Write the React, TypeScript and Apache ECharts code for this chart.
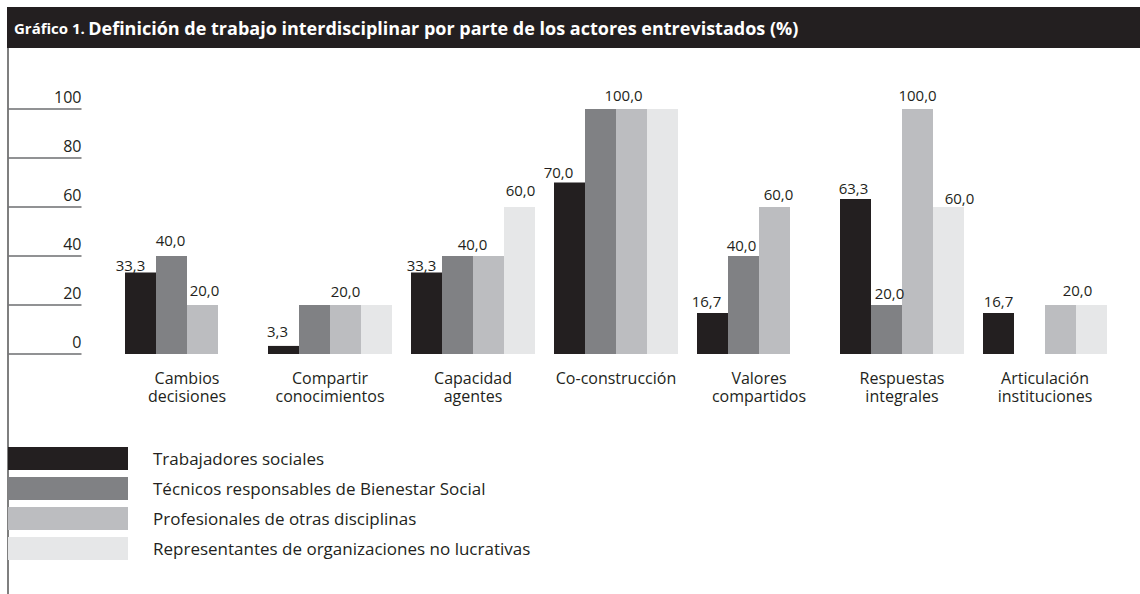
import { useEffect, useRef } from "react";
import * as echarts from "echarts";

const categories = [
  "Cambios\ndecisiones",
  "Compartir\nconocimientos",
  "Capacidad\nagentes",
  "Co-construcción",
  "Valores\ncompartidos",
  "Respuestas\nintegrales",
  "Articulación\ninstituciones",
];
const seriesNames = [
  "Trabajadores sociales",
  "Técnicos responsables de Bienestar Social",
  "Profesionales de otras disciplinas",
  "Representantes de organizaciones no lucrativas",
];
const trabajadores = [33.3, 3.3, 33.3, 70.0, 16.7, 63.3, 16.7];
const tecnicos = [40.0, 20.0, 40.0, 100.0, 40.0, 20.0, 0];
const profesionales = [20.0, 20.0, 40.0, 100.0, 60.0, 100.0, 20.0];
const representantes = [0, 20.0, 60.0, 100.0, 0, 60.0, 20.0];
const yTicks = [0, 20, 40, 60, 80, 100];

const titleLead = "Gráfico 1.";
const titleText =
  "Definición de trabajo interdisciplinar por parte de los actores entrevistados (%)";

// which bar of each series carries a value label (1 = shown)
const labelShown = [
  [1, 1, 1, 1, 1, 1, 1],
  [1, 0, 1, 0, 1, 1, 0],
  [1, 1, 0, 1, 1, 1, 1],
  [0, 0, 1, 0, 0, 1, 0],
];
// small label nudges [dx, dy] relative to the bar top
const labelNudge: Record<string, [number, number]> = {
  "0-0": [-10, 7],
  "0-1": [-6, 0],
  "0-2": [-5, 7],
  "0-3": [-11, 4],
  "0-4": [-6, 2],
  "0-5": [-2, 4],
  "0-6": [0, 2],
  "1-0": [-1, -2],
  "1-2": [15, 2],
  "1-4": [-2, 3],
  "1-5": [3, 2],
  "2-0": [2, -1],
  "2-3": [-8, 0],
  "2-4": [4, 1],
  "2-6": [17, -1],
  "3-2": [1, -3],
  "3-5": [11, 5],
};

const colors = ["#231f20", "#808184", "#bcbdc0", "#e6e7e8"];
const FONT = "'Open Sans', 'Noto Sans', sans-serif";
const TEXT = "#231f20";

export default function App() {
  const ref = useRef<HTMLDivElement>(null);
  useEffect(() => {
    document.body.style.margin = "0";
    if (!ref.current) return;
    const chart = echarts.init(ref.current, undefined, { renderer: "svg" });
    const all = [trabajadores, tecnicos, profesionales, representantes];
    const fmt = (v: number) => v.toFixed(1).replace(".", ",");
    const series = all.map((vals, si) => ({
      name: seriesNames[si],
      type: "bar",
      barWidth: 31,
      barGap: "0%",
      itemStyle: { color: colors[si] },
      label: {
        show: false,
        position: "top",
        distance: 7,
        fontSize: 15,
        fontFamily: FONT,
        color: TEXT,
        formatter: (p: any) => fmt(p.value),
      },
      data: vals.map((v, ci) => {
        if (!labelShown[si][ci]) return { value: v };
        const off = labelNudge[`${si}-${ci}`] || [0, 0];
        return { value: v, label: { show: true, offset: off } };
      }),
    }));

    chart.setOption({
      animation: false,
      backgroundColor: "#ffffff",
      textStyle: { fontFamily: FONT },
      grid: { left: 115.5, right: 23.5, top: 109, bottom: 240, containLabel: false },
      xAxis: {
        type: "category",
        data: categories,
        axisLine: { show: false },
        axisTick: { show: false },
        axisLabel: {
          interval: 0,
          margin: 15,
          fontSize: 16,
          lineHeight: 18,
          color: TEXT,
          fontFamily: FONT,
        },
      },
      yAxis: {
        type: "value",
        min: yTicks[0],
        max: yTicks[yTicks.length - 1],
        interval: 20,
        offset: 34,
        axisLine: { show: false },
        axisTick: { show: true, length: 73, lineStyle: { color: "#6d6e71", width: 1.5 } },
        splitLine: { show: false },
        axisLabel: {
          margin: 0,
          align: "right",
          verticalAlign: "bottom",
          padding: [0, 0, 4, 0],
          fontSize: 16,
          color: TEXT,
          fontFamily: FONT,
        },
      },
      legend: {
        orient: "vertical",
        left: 8,
        top: 447,
        padding: 0,
        itemWidth: 120,
        itemHeight: 23,
        itemGap: 7,
        icon: "rect",
        data: seriesNames,
        textStyle: { fontSize: 17, color: TEXT, fontFamily: FONT, padding: [0, 0, 0, 20] },
      },
      graphic: [
        { type: "rect", shape: { x: 7, y: 7, width: 1133, height: 41 }, style: { fill: "#231f20" } },
        {
          type: "text",
          x: 14,
          y: 28,
          style: {
            text: `{a|${titleLead}} {b|${titleText}}`,
            verticalAlign: "middle",
            fill: "#ffffff",
            rich: {
              a: { fontSize: 15, fontWeight: "bold", fill: "#ffffff", fontFamily: FONT },
              b: { fontSize: 18, fontWeight: "bold", fill: "#ffffff", fontFamily: FONT },
            },
          },
        },
        { type: "line", shape: { x1: 8, y1: 48, x2: 8, y2: 594 }, style: { stroke: "#555555", lineWidth: 1.5 } },
      ],
      series,
    });
    return () => chart.dispose();
  }, []);
  return <div ref={ref} style={{ width: 1140, height: 594 }} />;
}
